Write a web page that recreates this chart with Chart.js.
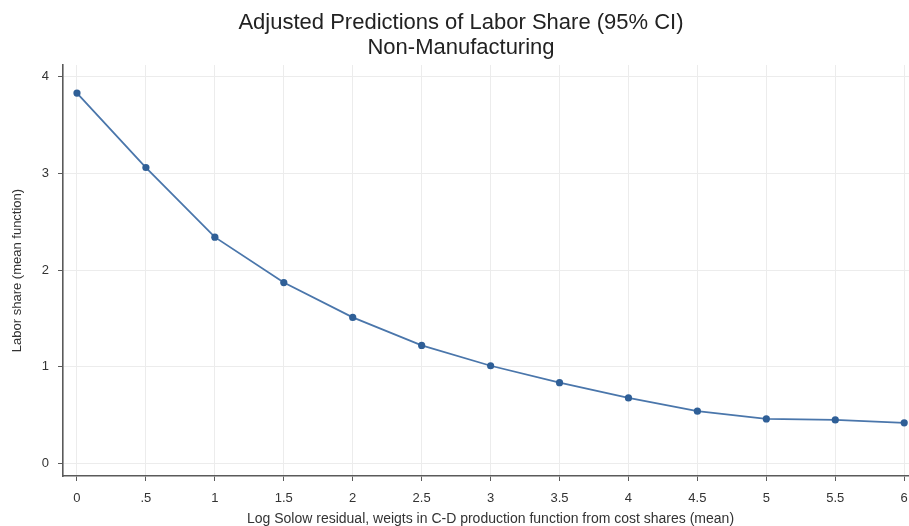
<!DOCTYPE html>
<html>
<head>
<meta charset="utf-8">
<script src="https://cdn.jsdelivr.net/npm/chart.js@4.4.1/dist/chart.umd.min.js"></script>
<style>
  html, body { margin: 0; padding: 0; background: #fff; overflow: hidden; }
  #wrap { width: 922px; height: 526px; }
</style>
</head>
<body>
<div id="wrap"><canvas id="predchart" width="922" height="526"></canvas></div>
<script>
// x grid of the margins plot
var xValues = [0, 0.5, 1, 1.5, 2, 2.5, 3, 3.5, 4, 4.5, 5, 5.5, 6];
// predicted labor share at each x
var yValues = [3.83, 3.06, 2.34, 1.87, 1.51, 1.22, 1.01, 0.835, 0.677, 0.54, 0.46, 0.45, 0.42];
var xTicks = [0, 0.5, 1, 1.5, 2, 2.5, 3, 3.5, 4, 4.5, 5, 5.5, 6];
var yTicks = [0, 1, 2, 3, 4];

var points = xValues.map(function (x, i) {
    return { x: x, y: yValues[i] };
});

function fmtX(v) {
    // stata style: .5 instead of 0.5
    var s = String(v);
    if (s.indexOf('0.') === 0) s = s.substring(1);
    return s;
}

var fontFam = '"Liberation Sans", Arial, Helvetica, sans-serif';
var axisColor = '#5a5a5a';
var gridColor = '#ececec';

var ctx = document.getElementById('predchart').getContext('2d');
var predchart = new Chart(ctx, {
    type: 'line',
    data: {
        datasets: [{
            data: points,
            borderColor: '#4a76ab',
            backgroundColor: '#2f5f97',
            borderWidth: 1.8,
            pointRadius: 3.6,
            pointBorderWidth: 0,
            pointBackgroundColor: '#2f5f97',
            tension: 0,
            fill: false
        }]
    },
    options: {
        responsive: false,
        animation: false,
        layout: { padding: 0 },
        plugins: {
            legend: { display: false },
            tooltip: { enabled: false },
            title: {
                display: true,
                text: ['Adjusted Predictions of Labor Share (95% CI)', 'Non-Manufacturing'],
                color: '#222',
                font: { family: fontFam, size: 22, weight: 'normal', lineHeight: 1.15 },
                padding: { top: 10, bottom: 4.4 }
            }
        },
        scales: {
            x: {
                type: 'linear',
                min: -0.1014,
                max: 6.1,
                afterBuildTicks: function (scale) {
                    scale.ticks = xTicks.map(function (v) { return { value: v }; });
                },
                afterFit: function (scale) { scale.height = 50; },
                ticks: {
                    color: '#333',
                    font: { family: fontFam, size: 13 },
                    padding: 10,
                    maxRotation: 0,
                    autoSkip: false,
                    callback: function (v) { return fmtX(v); }
                },
                grid: { color: gridColor, lineWidth: 1, tickColor: axisColor, tickLength: 5 },
                border: { color: axisColor, width: 1.6 },
                title: {
                    display: true,
                    text: 'Log Solow residual, weigts in C-D production function from cost shares (mean)',
                    color: '#333',
                    font: { family: fontFam, size: 14, lineHeight: 1 },
                    padding: { top: 0, bottom: 0 }
                }
            },
            y: {
                type: 'linear',
                min: -0.13,
                max: 4.12,
                afterBuildTicks: function (scale) {
                    scale.ticks = yTicks.map(function (v) { return { value: v }; });
                },
                afterFit: function (scale) { scale.width = 63; },
                ticks: {
                    color: '#333',
                    font: { family: fontFam, size: 13 },
                    padding: 9
                },
                grid: { color: gridColor, lineWidth: 1, tickColor: axisColor, tickLength: 5 },
                border: { color: axisColor, width: 1.6 },
                title: {
                    display: true,
                    text: 'Labor share (mean function)',
                    color: '#333',
                    font: { family: fontFam, size: 13, lineHeight: 1 },
                    padding: { top: 11, bottom: 0 }
                }
            }
        }
    }
});
</script>
</body>
</html>
